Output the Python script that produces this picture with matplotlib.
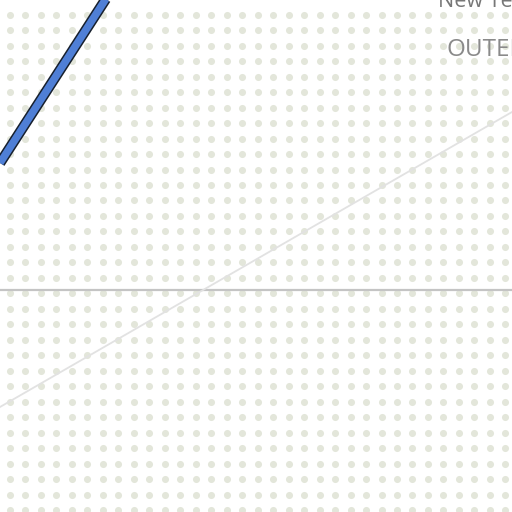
import numpy as np
import matplotlib
matplotlib.use('Agg')
import matplotlib.pyplot as plt

# plot units: x 0..512, y measured from the zero line
x_diag = [0, 512]
y_diag = [-117, 178]
x_series = [0, 120]
y_series = [127, 313]
labels = ['New Text', 'OUTER']

fig = plt.figure(figsize=(5.12, 5.12), dpi=100)
ax = fig.add_axes([0, 0, 1, 1])
ax.set_xlim(0, 512)
ax.set_ylim(-222, 290)
ax.axis('off')

# dotted background
gx = 10 + 15.48 * np.arange(33)
gy = 290 - (14.7 + 15.48 * np.arange(33))
GX, GY = np.meshgrid(gx, gy)
ax.scatter(GX.ravel(), GY.ravel(), s=26, c='#e3e6da', linewidths=0, zorder=1)

ax.axhline(0, color='#c4c4c4', lw=1.6, zorder=2)
ax.plot(x_diag, y_diag, color='#e2e2e2', lw=1.3, zorder=2)

ax.plot(x_series, y_series, color='#17202e', lw=7.6, solid_capstyle='butt', zorder=3)
ax.plot(x_series, y_series, color='#4f7fd6', lw=5.4, solid_capstyle='butt', zorder=4)

ax.text(438, 290 - 6.7, labels[0], fontsize=15.5, color='#777777',
        family='Open Sans', ha='left', va='baseline', zorder=5)
ax.text(446, 290 - 56.5, labels[1], fontsize=17.5, color='#8a8a8a',
        family='Open Sans', ha='left', va='baseline', zorder=5)

fig.savefig('out.png', dpi=100)
